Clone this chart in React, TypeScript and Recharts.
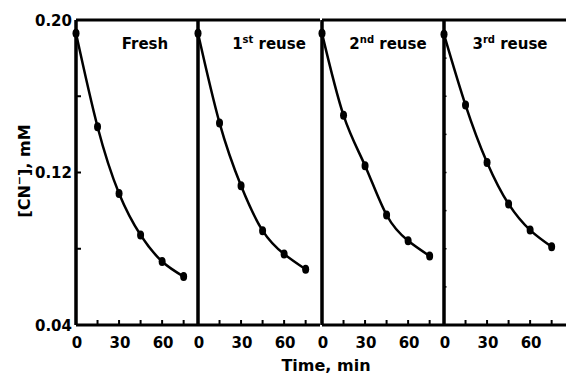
import React from 'react';
import { LineChart, Line, XAxis, YAxis, ReferenceLine } from 'recharts';

// Time points (min) and [CN-] (mM)
const TIME = [0, 15, 30, 45, 60, 75];
const FRESH = [0.193, 0.144, 0.109, 0.0872, 0.0733, 0.0654];
const REUSE_1 = [0.193, 0.146, 0.113, 0.0895, 0.0772, 0.0692];
const REUSE_2 = [0.193, 0.15, 0.1236, 0.0977, 0.0842, 0.0762];
const REUSE_3 = [0.1925, 0.1554, 0.1253, 0.1035, 0.0898, 0.0811];
const SERIES = [FRESH, REUSE_1, REUSE_2, REUSE_3];

const X_TICKS = [0, 15, 30, 45, 60, 75];
const X_LABELS = ['0', '', '30', '', '60', ''];
const Y_TICKS = [0.04, 0.08, 0.12, 0.16, 0.2];
const Y_LABELS = ['0.04', '', '0.12', '', '0.20'];
const Y_MINOR = [0.06, 0.08, 0.1, 0.12, 0.14, 0.16, 0.18];

// panel titles: [main, superscript, rest]
const TITLES: [string, string, string][] = [
  ['Fresh', '', ''],
  ['1', 'st', ' reuse'],
  ['2', 'nd', ' reuse'],
  ['3', 'rd', ' reuse'],
];

const FONT = '"DejaVu Sans", Arial, sans-serif';
const PANEL_X = [76, 198, 322, 444];
const PANEL_W = 122;
const PAD = 6;
const TOP = 20;
const X_AXIS_H = 51;

const XTick = (props: any) => {
  const { x, y, payload } = props;
  const label = X_LABELS[X_TICKS.indexOf(payload.value)] ?? '';
  return (
    <g>
      <line x1={x} x2={x} y1={y} y2={y - 5} stroke="#000" strokeWidth={2} />
      {label && (
        <text x={x + 1} y={y + 23} textAnchor="middle" fontFamily={FONT} fontWeight="bold" fontSize={15} fill="#000">
          {label}
        </text>
      )}
    </g>
  );
};

const YTick = (props: any) => {
  const { x, y, payload } = props;
  const label = Y_LABELS[Y_TICKS.indexOf(payload.value)] ?? '';
  return (
    <g>
      <line x1={x} x2={x + 5} y1={y} y2={y} stroke="#000" strokeWidth={2} />
      {label && (
        <text x={x - 4} y={y + 5.5} textAnchor="end" fontFamily={FONT} fontWeight="bold" fontSize={15} fill="#000">
          {label}
        </text>
      )}
    </g>
  );
};

const MinorTick = (props: any) => {
  const { x, y } = props;
  return <line x1={x} x2={x + 2.5} y1={y} y2={y} stroke="#000" strokeWidth={1.5} />;
};

const Dot = (props: any) => {
  const { cx, cy } = props;
  if (cx == null || cy == null) return null;
  return <ellipse cx={cx} cy={cy} rx={3.5} ry={4.5} fill="#000" />;
};

function Panel({ idx }: { idx: number }) {
  const first = idx === 0;
  const data = TIME.map((t, i) => ({ t, c: SERIES[idx][i] }));
  const yW = first ? PANEL_X[0] : 1;
  const left = first ? 0 : PANEL_X[idx] - PAD - yW;
  const width = (first ? yW : PAD + yW) + PANEL_W + PAD;
  let yTicks: number[] = [];
  let yTick: any = false;
  if (first) {
    yTicks = Y_TICKS;
    yTick = <YTick />;
  } else if (idx === 3) {
    yTicks = Y_MINOR;
    yTick = <MinorTick />;
  }
  return (
    <div style={{ position: 'absolute', left, top: 0 }}>
      <LineChart
        width={width}
        height={376}
        data={data}
        margin={{ top: TOP, right: PAD, bottom: 0, left: first ? 0 : PAD }}
      >
        <XAxis
          type="number"
          dataKey="t"
          domain={[0, 85]}
          ticks={X_TICKS}
          interval={0}
          height={X_AXIS_H}
          tickSize={0}
          tickMargin={0}
          tickLine={false}
          axisLine={{ stroke: '#000', strokeWidth: 3 }}
          tick={<XTick />}
        />
        <YAxis
          type="number"
          domain={[0.04, 0.2]}
          ticks={yTicks}
          interval={0}
          width={yW}
          tickSize={0}
          tickMargin={0}
          tickLine={false}
          axisLine={{ stroke: '#000', strokeWidth: 3 }}
          tick={yTick}
        />
        <ReferenceLine y={0.2} stroke="#000" strokeWidth={3} />
        <ReferenceLine x={0} stroke="#000" strokeWidth={3} />
        <Line
          type="natural"
          dataKey="c"
          stroke="#000"
          strokeWidth={2.5}
          dot={<Dot />}
          activeDot={false}
          isAnimationActive={false}
        />
      </LineChart>
    </div>
  );
}

const TITLE_DX = [69, 71, 66, 66];

export default function App() {
  return (
    <div style={{ position: 'absolute', left: 0, top: 0, width: 568, height: 376, background: '#fff', overflow: 'hidden' }}>
      {SERIES.map((_, i) => (
        <Panel key={i} idx={i} />
      ))}
      <svg width={568} height={376} style={{ position: 'absolute', left: 0, top: 0, pointerEvents: 'none' }}>
        <g fontFamily={FONT} fontWeight="bold" fill="#000">
          {TITLES.map(([main, sup, rest], i) => (
            <text key={i} x={PANEL_X[i] + TITLE_DX[i]} y={49} textAnchor="middle" fontSize={15}>
              {main}
              {sup && (
                <tspan fontSize={10} dy={-6}>
                  {sup}
                </tspan>
              )}
              {rest && <tspan dy={6}>{rest}</tspan>}
            </text>
          ))}
          <text x={326} y={371} textAnchor="middle" fontSize={16}>
            Time, min
          </text>
          <text transform="rotate(-90)" x={-171} y={30} textAnchor="middle" fontSize={16}>
            [CN
            <tspan fontSize={11} dy={-7}>
              −
            </tspan>
            <tspan dy={7}>], mM</tspan>
          </text>
        </g>
      </svg>
    </div>
  );
}
